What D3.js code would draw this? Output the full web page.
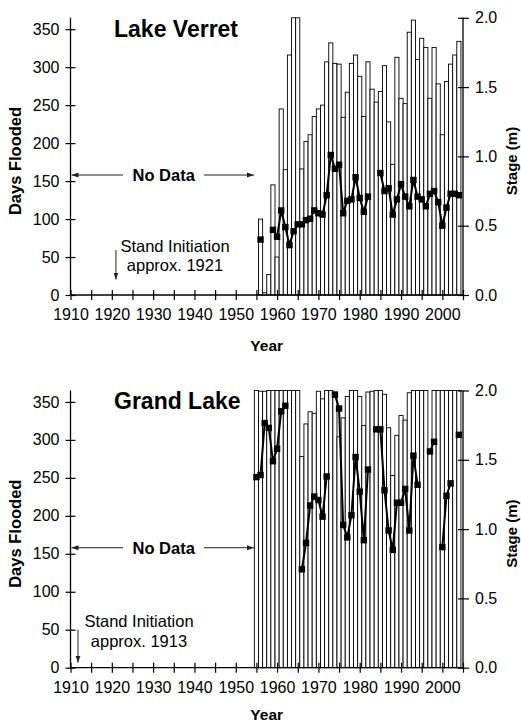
<!DOCTYPE html>
<html><head><meta charset="utf-8">
<script src="https://cdn.jsdelivr.net/npm/d3@7"></script>
<style>body{margin:0;background:#fff}svg{display:block;font-family:"Liberation Sans",Arial,sans-serif}</style>
</head><body><svg id="c" width="521" height="723"></svg>
<script>
const years = d3.range(1955, 2005);
const verretDays = [0,100,3,27,145,50,245,165,316,365,365,166,202,211,235,245,250,307,332,305,304,234,267,305,316,288,235,307,271,254,268,302,228,172,313,259,252,346,362,310,338,326,259,326,278,211,281,304,316,334];
const verretStage = [null,0.40,null,null,0.47,0.42,0.61,0.49,0.36,0.46,0.51,0.51,0.54,0.55,0.61,0.59,0.58,0.72,1.01,0.91,0.94,0.59,0.68,0.69,0.85,0.70,0.60,0.71,null,null,0.88,0.75,0.77,0.58,0.69,0.80,0.71,0.64,0.83,0.71,0.69,0.64,0.73,0.75,0.67,0.50,0.63,0.73,0.73,0.72];
const grandDays = [365,364,364,365,365,365,365,365,365,365,365,278,321,337,335,364,354,365,365,363,304,329,357,365,365,357,319,363,364,365,365,360,316,253,306,332,326,362,365,365,365,365,287,365,365,365,365,365,365,365];
const grandStage = [1.375,1.39,1.765,1.73,1.49,1.58,1.85,1.89,null,null,null,0.71,0.90,1.17,1.235,1.21,1.09,1.38,null,1.97,1.87,1.03,0.94,1.10,1.52,1.27,0.92,1.43,null,1.72,1.72,1.28,0.99,0.85,1.19,1.19,1.29,0.99,1.53,1.32,null,null,1.56,1.63,null,0.87,1.24,1.33,null,1.68];
const xTicks = d3.range(1910, 2006, 5);
const xLabels = d3.range(1910, 2001, 10);
const dayTicks = d3.range(0, 351, 50);
const stageTicks = [0, 0.5, 1.0, 1.5, 2.0];

const svg = d3.select("#c");
const defs = svg.append("defs");
defs.append("marker").attr("id","ah").attr("viewBox","0 0 10 10").attr("refX",10).attr("refY",5)
  .attr("markerWidth",7).attr("markerHeight",7).attr("markerUnits","userSpaceOnUse").attr("orient","auto")
  .append("path").attr("d","M0,1.5L10,5L0,8.5Z").attr("fill","#222");

const x = d3.scaleLinear().domain([1910, 2005]).range([70.5, 463]);
const bw = x(1911) - x(1910);

function panel(oy, title, days, stage, ann, yearY) {
  const g = svg.append("g").attr("transform", `translate(0,${oy})`);
  const yD = d3.scaleLinear().domain([0, 365]).range([295, 17.8]);
  const yS = d3.scaleLinear().domain([0, 2]).range([295, 17.8]);
  const data = years.map((yr, i) => ({yr, d: days[i], s: stage[i]}));

  g.selectAll("rect.bar").data(data.filter(e => e.d > 0)).join("rect").attr("class","bar")
    .attr("x", e => x(e.yr) - bw/2).attr("width", bw)
    .attr("y", e => yD(e.d)).attr("height", e => yD(0) - yD(e.d))
    .attr("fill","#fff").attr("stroke","#000").attr("stroke-width",0.9);

  const la = g.append("g").attr("transform",`translate(${x(1910)},0)`)
    .call(d3.axisLeft(yD).tickValues(dayTicks).tickSize(5).tickSizeOuter(0).tickPadding(6));
  la.select(".domain").attr("d", `M0,${yD(365)}V${yD(0)}`).attr("stroke","#000").attr("stroke-width",1.3);
  la.selectAll(".tick line").attr("x1",5).attr("stroke","#000").attr("stroke-width",1.2);
  la.selectAll(".tick text").attr("font-size",16).attr("fill","#000").attr("font-family","Liberation Sans, Arial");

  const ra = g.append("g").attr("transform",`translate(${x(2005)},0)`)
    .call(d3.axisRight(yS).tickValues(stageTicks).tickFormat(d3.format(".1f")).tickSize(6).tickSizeOuter(0).tickPadding(6));
  ra.select(".domain").attr("d", `M0,${yS(2)}V${yS(0)}`).attr("stroke","#000").attr("stroke-width",1.3);
  ra.selectAll(".tick line").attr("x1",-5).attr("stroke","#000").attr("stroke-width",1.2);
  ra.selectAll(".tick text").attr("font-size",16).attr("fill","#000").attr("font-family","Liberation Sans, Arial");

  const ba = g.append("g").attr("transform",`translate(0,${yD(0)})`)
    .call(d3.axisBottom(x).tickValues(xTicks).tickFormat(d => xLabels.includes(d) ? d : "").tickSize(5).tickSizeOuter(0).tickPadding(9));
  ba.select(".domain").attr("d", `M${x(1910)},0H${x(2005)}`).attr("stroke","#000").attr("stroke-width",1.3);
  ba.selectAll(".tick line").attr("y1",-5).attr("stroke","#000").attr("stroke-width",1.2);
  ba.selectAll(".tick text").attr("font-size",16).attr("fill","#000").attr("font-family","Liberation Sans, Arial");

  const line = d3.line().defined(e => e.s != null).x(e => x(e.yr)).y(e => yS(e.s));
  g.append("path").datum(data).attr("d", line).attr("fill","none").attr("stroke","#000").attr("stroke-width",2);
  g.selectAll("rect.mk").data(data.filter(e => e.s != null)).join("rect").attr("class","mk")
    .attr("x", e => x(e.yr) - 3.2).attr("y", e => yS(e.s) - 3.2).attr("width",6.4).attr("height",6.4).attr("fill","#000");

  g.append("text").attr("x",114).attr("y",36.5).attr("font-size",23).attr("font-weight","bold").text(title);
  g.append("text").attr("transform","translate(21,161) rotate(-90)").attr("text-anchor","middle")
    .attr("font-size",16.5).attr("font-weight","bold").text("Days Flooded");
  g.append("text").attr("transform","translate(517,161) rotate(-90)").attr("text-anchor","middle")
    .attr("font-size",15).attr("font-weight","bold").text("Stage (m)");
  g.append("text").attr("x",(x(1910)+x(2005))/2).attr("y",yearY).attr("text-anchor","middle")
    .attr("font-size",15.5).attr("font-weight","bold").text("Year");

  const ny = yD(158);
  g.append("text").attr("x",163.7).attr("y",ny+6).attr("text-anchor","middle").attr("font-size",16.5).attr("font-weight","bold").text("No Data");
  g.append("line").attr("x1",123).attr("x2",x(1910)+1).attr("y1",ny).attr("y2",ny).attr("stroke","#222").attr("stroke-width",1).attr("marker-end","url(#ah)");
  g.append("line").attr("x1",204).attr("x2",x(1955)-2.5).attr("y1",ny).attr("y2",ny).attr("stroke","#222").attr("stroke-width",1).attr("marker-end","url(#ah)");

  g.append("text").attr("x",ann.tx).attr("y",ann.ty1).attr("text-anchor","middle").attr("font-size",16.5).text("Stand Initiation");
  g.append("text").attr("x",ann.tx).attr("y",ann.ty2).attr("text-anchor","middle").attr("font-size",16.5).text("approx. " + ann.label);
  g.append("line").attr("x1",ann.ax).attr("x2",ann.ax).attr("y1",ann.a1).attr("y2",ann.a2)
    .attr("stroke","#222").attr("stroke-width",1).attr("marker-end","url(#ah)");
}

panel(0, "Lake Verret", verretDays, verretStage, {label:"1921", ax:x(1921), tx:175, ty1:251.5, ty2:270.5, a1:250, a2:279.5}, 351);
panel(372.7, "Grand Lake", grandDays, grandStage, {label:"1913", ax:78, tx:139, ty1:254, ty2:274, a1:257, a2:290}, 347.5);
</script></body></html>
